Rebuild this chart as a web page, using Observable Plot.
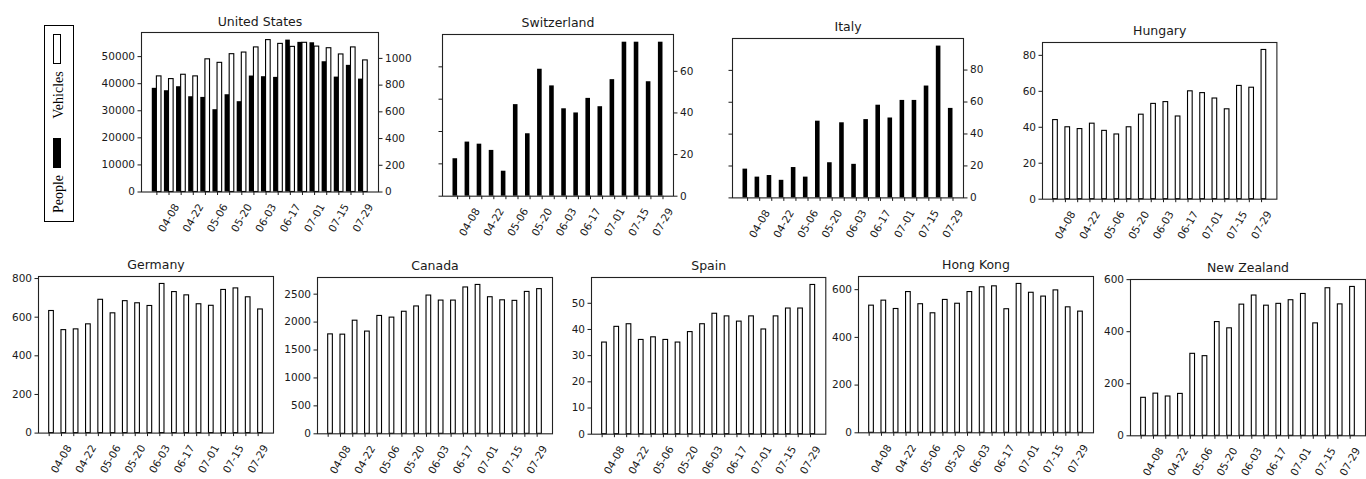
<!DOCTYPE html>
<html>
<head>
<meta charset="utf-8">
<script src="https://cdn.jsdelivr.net/npm/d3@7"></script>
<script src="https://cdn.jsdelivr.net/npm/@observablehq/plot@0.6"></script>
<style>
  html, body { margin: 0; padding: 0; background: #fff; }
  #page { position: relative; width: 1366px; height: 479px; overflow: hidden; background: #fff; }
  .panel { position: absolute; }
  .panel svg { display: block; overflow: visible; }
  .layer { position: absolute; left: 0; top: 0; }
  #legend { position: absolute; left: 44px; top: 25px; width: 28px; height: 195px; border: 1.3px solid #000; background: #fff; }
  #legend .sw { position: absolute; left: 8px; width: 6px; height: 28px; border: 1.5px solid #000; }
  #legend .lab { position: absolute; left: 13.5px; white-space: nowrap; font: 14px "Liberation Serif", "Times New Roman", serif; color: #000; transform: translate(-50%, -50%) rotate(-90deg); }
</style>
</head>
<body>
<div id="page">
  <div id="legend">
    <div class="sw" style="top:8px;background:#fff"></div>
    <div class="lab" style="top:69px">Vehicles</div>
    <div class="sw" style="top:112px;background:#000"></div>
    <div class="lab" style="top:168px">People</div>
  </div>
</div>
<script>
// ---------- data ----------
const weeks = ["04-01","04-08","04-15","04-22","04-29","05-06","05-13","05-20","05-27",
               "06-03","06-10","06-17","06-24","07-01","07-08","07-15","07-22","07-29"];

const usVehicles = [42700, 41700, 43300, 42700, 49000, 47700, 50900, 51500, 53400, 56100, 54700, 53600, 55100, 53700, 53100, 50800, 53400, 48600];
const usPeople = [776, 758, 788, 713, 708, 616, 728, 676, 868, 863, 858, 1137, 1120, 1117, 975, 860, 948, 845];
const switzerlandPeople = [18, 26, 25, 22, 12, 44, 30, 61, 53, 42, 40, 47, 43, 56, 74, 74, 55, 74];
const italyPeople = [18, 13, 14, 11, 19, 13, 48, 22, 47, 21, 49, 58, 50, 61, 61, 70, 95, 56];
const hungaryVehicles = [44, 40, 39, 42, 38, 36, 40, 47, 53, 54, 46, 60, 59, 56, 50, 63, 62, 83];
const germanyVehicles = [632, 533, 537, 563, 690, 620, 683, 672, 658, 772, 730, 713, 667, 659, 741, 749, 703, 640];
const canadaVehicles = [1780, 1775, 2025, 1830, 2110, 2080, 2185, 2280, 2475, 2385, 2385, 2620, 2665, 2445, 2390, 2380, 2540, 2590];
const spainVehicles = [35, 41, 42, 36, 37, 36, 35, 39, 42, 46, 45, 43, 45, 40, 45, 48, 48, 57];
const hongKongVehicles = [533, 554, 519, 590, 539, 501, 557, 541, 590, 610, 614, 518, 624, 587, 571, 597, 526, 508];
const newZealandVehicles = [146, 162, 151, 161, 315, 306, 437, 413, 504, 539, 500, 507, 521, 545, 432, 567, 505, 572];

const usVehicleTicks = [0, 10000, 20000, 30000, 40000, 50000];
const usPeopleTicks = [0, 200, 400, 600, 800, 1000];
const switzerlandTicks = [0, 20, 40, 60];
const italyTicks = [0, 20, 40, 60, 80];
const hungaryTicks = [0, 20, 40, 60, 80];
const germanyTicks = [0, 200, 400, 600, 800];
const canadaTicks = [0, 500, 1000, 1500, 2000, 2500];
const spainTicks = [0, 10, 20, 30, 40, 50];
const hongKongTicks = [0, 200, 400, 600];
const newZealandTicks = [0, 200, 400, 600];

// ---------- layout (frame left, top, width, height) ----------
const panels = [
  {name: "United States", vehicles: usVehicles, vTicks: usVehicleTicks, people: usPeople, pTicks: usPeopleTicks, box: [141, 32, 237, 159.5]},
  {name: "Switzerland", people: switzerlandPeople, pTicks: switzerlandTicks, box: [442.3, 34.3, 231, 161.7]},
  {name: "Italy", people: italyPeople, pTicks: italyTicks, box: [732.3, 38.3, 231, 159.4]},
  {name: "Hungary", vehicles: hungaryVehicles, vTicks: hungaryTicks, box: [1042.3, 42.3, 234.4, 156.7]},
  {name: "Germany", vehicles: germanyVehicles, vTicks: germanyTicks, box: [38.3, 275.7, 235, 156.6]},
  {name: "Canada", vehicles: canadaVehicles, vTicks: canadaTicks, box: [317.3, 276.7, 235, 156.3]},
  {name: "Spain", vehicles: spainVehicles, vTicks: spainTicks, box: [590.7, 277, 234.3, 156.7]},
  {name: "Hong Kong", vehicles: hongKongVehicles, vTicks: hongKongTicks, box: [858.3, 276, 235, 156.3]},
  {name: "New Zealand", vehicles: newZealandVehicles, vTicks: newZealandTicks, box: [1130, 278.7, 235, 156.3]}
];

const BW = 0.38; // bar width in week units
const ink = "#1a1a1a";

function xDomain(hasPeople, hasVehicles) {
  const lo = hasPeople ? -BW : 0;
  const hi = (weeks.length - 1) + (hasVehicles ? BW : 0);
  const m = (hi - lo) * 0.05;
  return [lo - m, hi + m];
}
const rowsOf = vals => vals.map((v, i) => ({i, week: weeks[i], v}));

function drawPanel(p) {
  const [fx, fy, fw, fh] = p.box;
  const ml = 50, mr = 40, mt = 30, mb = 60;
  const hasV = !!p.vehicles, hasP = !!p.people;
  const common = {
    width: fw + ml + mr, height: fh + mt + mb,
    marginLeft: ml, marginRight: mr, marginTop: mt, marginBottom: mb,
    style: {fontFamily: "'DejaVu Sans', sans-serif", fontSize: "10.5px", color: ink, background: "transparent", overflow: "visible"}
  };
  const xDom = xDomain(hasP, hasV);
  const xAxis = () => Plot.axisX({
    ticks: d3.range(weeks.length),
    tickFormat: i => (i % 2 ? weeks[i] : ""),
    tickRotate: -60, textAnchor: "middle", lineAnchor: "middle",
    tickSize: 3.5, tickPadding: 22.5, label: null, fontSize: 10.5
  });
  const title = () => Plot.text([p.name], {frameAnchor: "top", dy: -7, lineAnchor: "bottom", fontSize: 12.5, fill: ink});
  const frame = () => Plot.frame({stroke: "#222", strokeWidth: 1.1});

  const div = document.createElement("div");
  div.className = "panel";
  div.style.left = (fx - ml) + "px";
  div.style.top = (fy - mt) + "px";
  div.style.width = common.width + "px";
  div.style.height = common.height + "px";

  if (hasV) {
    const yMax = d3.max(p.vehicles) * 1.05;
    const marks = [
      Plot.rect(rowsOf(p.vehicles), {x1: d => d.i, x2: d => d.i + BW, y1: () => 0, y2: "v", fill: "#fff", stroke: "#000", strokeWidth: 1.1}),
      Plot.axisY({anchor: "left", ticks: p.vTicks, tickFormat: d3.format("d"), tickSize: 3.5, tickPadding: 3, label: null}),
      xAxis(), frame(), title()
    ];
    const svg = Plot.plot({...common, x: {domain: xDom, label: null}, y: {domain: [0, yMax], label: null}, marks});
    svg.classList.add("layer");
    div.append(svg);
  }
  if (hasP) {
    const yMax = d3.max(p.people) * 1.05;
    const marks = [
      Plot.rect(rowsOf(p.people), {x1: d => d.i - BW, x2: d => d.i, y1: () => 0, y2: "v", fill: "#000"}),
      Plot.axisY({anchor: "right", ticks: p.pTicks, tickFormat: d3.format("d"), tickSize: 3.5, tickPadding: 3, label: null})
    ];
    if (!hasV) {
      marks.push(
        Plot.axisY({anchor: "left", ticks: d3.range(5).map(k => k * yMax / 5), tickFormat: () => "", tickSize: 3.5, label: null}),
        xAxis(), frame(), title()
      );
    }
    const svg = Plot.plot({...common, x: {domain: xDom, axis: null, label: null}, y: {domain: [0, yMax], label: null}, marks});
    svg.classList.add("layer");
    div.append(svg);
  }
  document.getElementById("page").append(div);
}

panels.forEach(drawPanel);
</script>
</body>
</html>
